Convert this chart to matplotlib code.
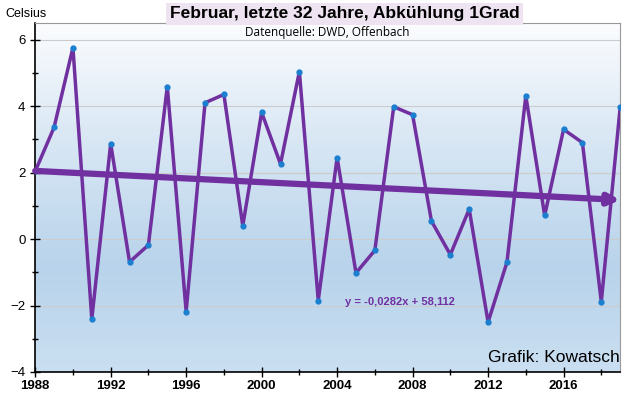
import numpy as np
import matplotlib.pyplot as plt
from matplotlib.colors import LinearSegmentedColormap

plt.rcParams['font.family'] = ['Liberation Sans', 'DejaVu Sans']

# February temperatures, DWD, last 32 years
years = list(range(1988, 2020))
temps = [2.04, 3.36, 5.76, -2.41, 2.87, -0.69, -0.18, 4.59, -2.18, 4.10,
         4.35, 0.40, 3.81, 2.26, 5.04, -1.85, 2.45, -1.02, -0.34, 3.98,
         3.74, 0.54, -0.47, 0.90, -2.50, -0.70, 4.31, 0.71, 3.30, 2.90,
         -1.89, 3.96]
slope = -0.0282
intercept = 58.112

y_ticks = [-4, -2, 0, 2, 4, 6]
x_ticks = [1988, 1992, 1996, 2000, 2004, 2008, 2012, 2016]

purple = "#7030a0"

fig = plt.figure(figsize=(6.4, 3.97), dpi=100)
ax = fig.add_axes([0.055, 0.063, 0.914, 0.879])

xmin, xmax = 1988, 2019
ymin, ymax = -4, 6.5

# background gradient: white at top, light blue below
cmap = LinearSegmentedColormap.from_list(
    "bg", [(0.0, "#cadff1"), (0.3, "#b8d3eb"), (0.7, "#dce9f5"), (1.0, "#fbfcfe")])
grad = np.linspace(0, 1, 256).reshape(-1, 1)
ax.imshow(grad, aspect="auto", cmap=cmap, origin="lower",
          extent=[xmin, xmax, ymin, ymax], zorder=0)

for yt in y_ticks:
    ax.axhline(yt, color="#cccccc", lw=0.8, zorder=1)

ax.plot(years, temps, color=purple, lw=2.5, zorder=3)
ax.plot(years, temps, "o", color="#1b7fcf", ms=3.5, zorder=4)

# trend line with arrow
y0 = slope * xmin + intercept
y1 = slope * xmax + intercept
ax.annotate("", xy=(xmax, y1), xytext=(xmin, y0),
            arrowprops=dict(arrowstyle="-|>", color=purple, lw=4.5,
                            mutation_scale=16, shrinkA=0, shrinkB=0),
            zorder=5, annotation_clip=False)

ax.text(2004.4, -1.9, "y = -0,0282x + 58,112", color=purple, fontsize=8,
        fontweight="bold", ha="left", va="center", zorder=6)
ax.text(2019, -3.55, "Grafik: Kowatsch", fontsize=12.5, ha="right",
        va="center", zorder=6)
fig.text(0.512, 0.917, "Datenquelle: DWD, Offenbach", fontsize=8.5,
         family="Open Sans", ha="center", va="center", zorder=6)

ax.set_xlim(xmin, xmax)
ax.set_ylim(ymin, ymax)
ax.set_xticks(x_ticks)
ax.set_xticks(range(1988, 2020, 2), minor=True)
ax.set_yticks(y_ticks)
ax.set_yticks(range(-4, 7), minor=True)
ax.tick_params(axis="both", direction="inout", length=7, width=1, labelsize=9.5)
ax.tick_params(axis="both", which="minor", direction="inout", length=4, width=1)
ax.tick_params(axis="x", pad=2)
for lbl in ax.get_xticklabels():
    lbl.set_fontweight("bold")

for side in ["top", "right"]:
    ax.spines[side].set_color("#999999")
for side in ["left", "bottom"]:
    ax.spines[side].set_color("black")
    ax.spines[side].set_linewidth(1.2)

fig.text(0.008, 0.965, "Celsius", fontsize=9, ha="left", va="center")
fig.text(0.538, 0.965, "Februar, letzte 32 Jahre, Abkühlung 1Grad",
         fontsize=12.5, fontweight="bold", ha="center", va="center",
         bbox=dict(boxstyle="square,pad=0.2", fc="#ede3f1", ec="none"))

fig.savefig("out.png", dpi=100)
